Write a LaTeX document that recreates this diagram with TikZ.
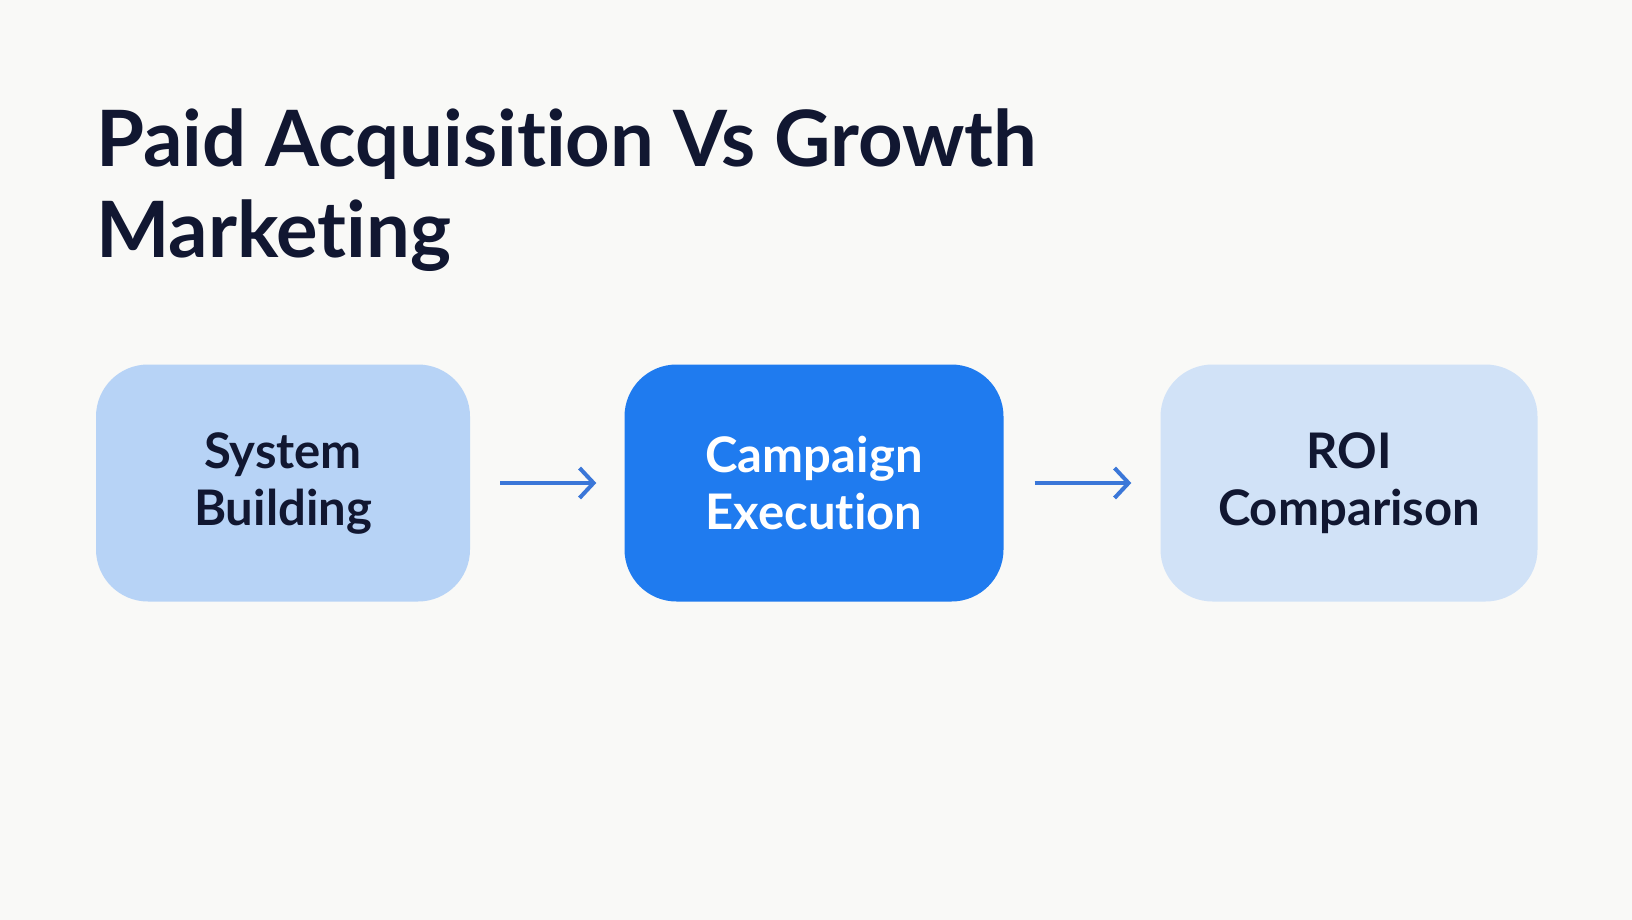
\documentclass[tikz,border=0pt]{standalone}
\usepackage{fontspec}
\setmainfont{Lato}[Ligatures={NoCommon}]
\usetikzlibrary{arrows.meta}
\definecolor{bgc}{HTML}{F9F9F7}
\definecolor{titlec}{HTML}{111731}
\definecolor{boxa}{HTML}{B7D3F6}
\definecolor{boxb}{HTML}{1F7BEF}
\definecolor{boxc}{HTML}{D1E2F7}
\definecolor{arrc}{HTML}{3B77D8}
\newlength\mywidth
\begin{document}
\settowidth\mywidth{\fontsize{76}{76}\selectfont\bfseries Paid Acquisition Vs Growth}
\pgfmathsetmacro\tsize{76/\mywidth*941}
\settowidth\mywidth{\fontsize{44}{44}\selectfont\bfseries Comparison}
\pgfmathsetmacro\bsize{44/\mywidth*262}
\tikzset{
  card/.style={rounded corners=52pt, minimum height=237pt, inner sep=0pt, align=center, font=\fontsize{\bsize}{57}\selectfont\bfseries},
  flow/.style={-{Straight Barb[length=14pt,width=30pt,line width=4pt]}, line width=4pt, color=arrc},
  ttl/.style={anchor=base west, font=\fontsize{\tsize}{\tsize}\selectfont\bfseries, text=titlec, inner sep=0pt}
}
\begin{tikzpicture}[x=1pt,y=-1pt]
\path[fill=bgc] (0,0) rectangle (1632,920);
\useasboundingbox (0,0) rectangle (1632,920);
\node[ttl] (title) at (96,166.5) {Paid Acquisition Vs Growth};
\node[ttl] (title2) at (96,257) {Marketing};
\node[card, fill=boxa, text=titlec, minimum width=374pt] (a) at (283,483) {System\\Building};
\node[card, fill=boxb, text=white, minimum width=379pt] (b) at (814,483) {Campaign\\Execution};
\node[card, fill=boxc, text=titlec, minimum width=377pt] (c) at (1349,483) {ROI\\Comparison};
\draw[flow] ([xshift=30pt]a.east) -- ([xshift=-28pt]b.west);
\draw[flow] ([xshift=31pt]b.east) -- ([xshift=-29pt]c.west);
\end{tikzpicture}
\end{document}
